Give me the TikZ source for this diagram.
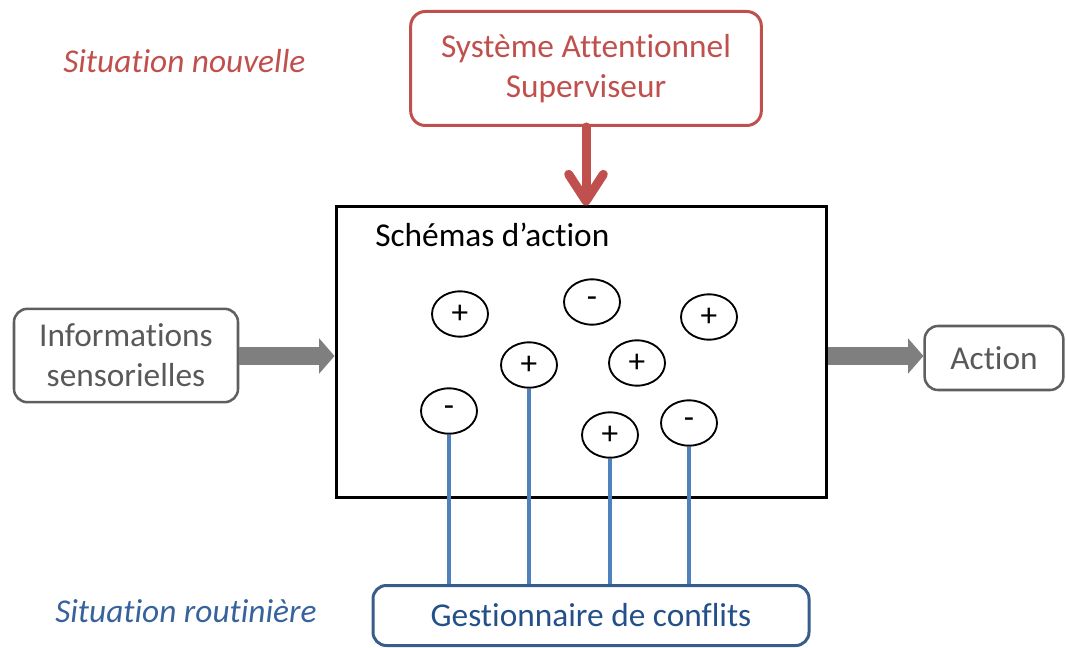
\documentclass[tikz,border=0pt]{standalone}
\usepackage{fontspec}
\setmainfont{Carlito}[Ligatures=NoCommon]
\usetikzlibrary{arrows.meta,shapes.geometric}
\definecolor{sasred}{HTML}{C0504D}
\definecolor{linkblue}{HTML}{4F81BD}
\definecolor{gestborder}{HTML}{385D8A}
\definecolor{gesttext}{HTML}{24508A}
\definecolor{routblue}{HTML}{37629C}
\definecolor{boxgray}{HTML}{5F5F5F}
\definecolor{txtgray}{HTML}{595959}
\definecolor{arrgray}{HTML}{7F7F7F}
\tikzset{
  lbl/.style={font=\fontsize{25}{30}\selectfont, inner sep=0pt},
  sasbox/.style={draw=sasred, line width=2.25pt, rounded corners=11pt, text=sasred, align=center,
    minimum width=263pt, minimum height=85.5pt, inner sep=0pt, font=\fontsize{25}{30}\selectfont},
  mainbox/.style={draw=black, line width=2.25pt, minimum width=367.5pt, minimum height=217.5pt, inner sep=0pt},
  graybox/.style={draw=boxgray, line width=1.9pt, rounded corners=10pt, text=txtgray, align=center,
    inner sep=0pt, font=\fontsize{25}{30}\selectfont},
  gestbox/.style={draw=gestborder, line width=2.25pt, rounded corners=10pt, text=gesttext,
    minimum width=327pt, minimum height=45pt, inner sep=0pt, font=\fontsize{25}{30}\selectfont},
  schema/.style={draw=black, line width=1.4pt, ellipse, minimum width=42pt, minimum height=34pt,
    inner sep=0pt, font=\fontsize{25}{30}\selectfont},
  bluelink/.style={draw=linkblue, line width=3pt},
  grayarrow/.style={draw=arrgray, line width=13.5pt, -{Triangle[length=11.5pt, width=26.5pt, line width=0pt]}},
  redarrow/.style={draw=sasred, line width=6.75pt, line cap=round,
    -{Straight Barb[length=20pt, width=26pt, line cap=round, line join=round]}}
}
\begin{document}
\begin{tikzpicture}[x=0.75pt, y=-0.75pt]
\useasboundingbox (0,0) rectangle (1066,648);
% labels
\node[lbl, anchor=base west, text=sasred] (lnew) at (63,73) {\itshape Situation nouvelle};
\node[lbl, anchor=base west, text=routblue] (lrout) at (55,622) {\itshape Situation routinière};
% boxes
\node[sasbox] (sas) at (586,68.5) {Système Attentionnel\\Superviseur};
\node[mainbox] (main) at (581,352) {};
\node[lbl, anchor=base west] (schtitle) at (375,247) {Schémas d’action};
\node[graybox, minimum width=168pt, minimum height=70pt] (info) at (126,355.5) {Informations\\sensorielles};
\node[graybox, minimum width=104pt, minimum height=48pt] (action) at (994,358) {Action};
\node[gestbox] (gest) at (591,615.5) {Gestionnaire de conflits};
% schemas
\node[schema] (e1) at (460,314) {+};
\node[schema] (e2) at (592,302) {-};
\node[schema] (e3) at (709,317) {+};
\node[schema] (e4) at (529,365) {+};
\node[schema] (e5) at (637,363) {+};
\node[schema] (e6) at (449,411) {-};
\node[schema] (e7) at (610,435) {+};
\node[schema] (e8) at (689,423) {-};
% links to conflict manager
\draw[bluelink] (e6.south) -- (e6.south |- gest.north);
\draw[bluelink] (e4.south) -- (e4.south |- gest.north);
\draw[bluelink] (e7.south) -- (e7.south |- gest.north);
\draw[bluelink] (e8.south) -- (e8.south |- gest.north);
% arrows
\draw[grayarrow] (info.east |- 0,356) -- (main.west |- 0,356);
\draw[grayarrow] (main.east |- 0,356) -- (action.west |- 0,356);
\draw[redarrow] (sas.south) -- (sas.south |- main.north);
\end{tikzpicture}
\end{document}
